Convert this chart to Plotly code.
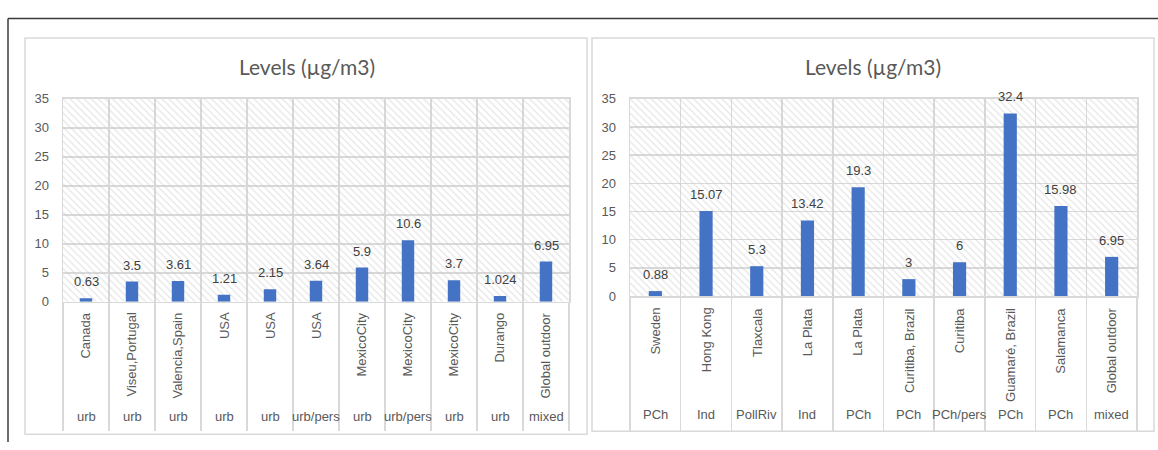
import plotly.graph_objects as go

W, H = 1158, 450

# ---------------- data ----------------
left_places = ["Canada", "Viseu,Portugal", "Valencia,Spain", "USA", "USA", "USA",
               "MexicoCity", "MexicoCity", "MexicoCity", "Durango", "Global outdoor"]
left_types = ["urb", "urb", "urb", "urb", "urb", "urb/pers", "urb", "urb/pers",
              "urb", "urb", "mixed"]
left_values = [0.63, 3.5, 3.61, 1.21, 2.15, 3.64, 5.9, 10.6, 3.7, 1.024, 6.95]

right_places = ["Sweden", "Hong Kong", "Tlaxcala", "La Plata", "La Plata",
                "Curitiba, Brazil", "Curitiba", "Guamaré, Brazil", "Salamanca",
                "Global outdoor"]
right_types = ["PCh", "Ind", "PollRiv", "Ind", "PCh", "PCh", "PCh/pers", "PCh",
               "PCh", "mixed"]
right_values = [0.88, 15.07, 5.3, 13.42, 19.3, 3, 6, 32.4, 15.98, 6.95]

title_text = "Levels (µg/m3)"
y_ticks = [0, 5, 10, 15, 20, 25, 30, 35]
y_max = 35

# ---------------- helpers ----------------
def px_x(x):
    return x / W

def px_y(y):
    return 1 - y / H

BAR = "#4472C4"
GRID = "#d9d9d9"
TXT = "#595959"
LBL = "#404040"
FONT = "Liberation Sans"

fig = go.Figure()

panels = [
    dict(places=left_places, types=left_types, values=left_values,
         xa="x", ya="y", xdom=[px_x(63), px_x(569)], ydom=[px_y(305), px_y(95)],
         ticklen=128, cat_top=314, type_y=424, title_x=307, bw=0.27,
         box=(25, 32, 587, 442)),
    dict(places=right_places, types=right_types, values=right_values,
         xa="x2", ya="y2", xdom=[px_x(630), px_x(1137)], ydom=[px_y(299), px_y(95)],
         ticklen=133, cat_top=309, type_y=422, title_x=873, bw=0.26,
         box=(592, 32, 1154, 439)),
]

shapes = []
annotations = []

# outer frame (top and left dark lines)
shapes.append(dict(type="line", xref="paper", yref="paper",
                   x0=px_x(8), x1=1, y0=px_y(12), y1=px_y(12),
                   line=dict(color="#3a3a3a", width=1.5), layer="below"))
shapes.append(dict(type="line", xref="paper", yref="paper",
                   x0=px_x(8), x1=px_x(8), y0=px_y(12), y1=0,
                   line=dict(color="#3a3a3a", width=1.5), layer="below"))

for i, p in enumerate(panels):
    n = len(p["values"])
    idx = list(range(n))
    # hatched plot background
    fig.add_trace(go.Bar(
        x=idx, y=[y_max] * n, width=1, xaxis=p["xa"], yaxis=p["ya"],
        marker=dict(color="rgba(0,0,0,0)", line=dict(width=0),
                    pattern=dict(shape="\\", fgcolor="#c8c8c8",
                                 bgcolor="rgba(0,0,0,0)", size=5, solidity=0.22)),
        hoverinfo="skip", showlegend=False))
    # data bars
    fig.add_trace(go.Bar(
        x=idx, y=p["values"], width=p["bw"], xaxis=p["xa"], yaxis=p["ya"],
        marker=dict(color=BAR, line=dict(width=0)), showlegend=False,
        hovertext=p["places"]))

    sfx = "" if i == 0 else "2"
    fig.update_layout(**{
        "xaxis" + sfx: dict(
            domain=p["xdom"], anchor="y" + sfx, range=[-0.5, n - 0.5],
            tickvals=[k - 0.5 for k in range(n + 1)], showticklabels=False,
            ticks="outside", ticklen=p["ticklen"], tickcolor=GRID, tickwidth=1.5,
            showgrid=True, gridcolor=GRID, gridwidth=1.5,
            showline=True, linecolor=GRID, linewidth=1.5, mirror=True,
            zeroline=False, fixedrange=True),
        "yaxis" + sfx: dict(
            domain=p["ydom"], anchor="x" + sfx, range=[0, y_max],
            tickvals=y_ticks, showgrid=True, gridcolor=GRID, gridwidth=1.5,
            showline=True, linecolor=GRID, linewidth=1.5, mirror=True,
            zeroline=False, ticks="", ticklabelstandoff=10,
            tickfont=dict(family=FONT, size=13, color=TXT), fixedrange=True),
    })

    # panel box
    x0, y0, x1, y1 = p["box"]
    shapes.append(dict(type="rect", xref="paper", yref="paper",
                       x0=px_x(x0), x1=px_x(x1), y0=px_y(y1), y1=px_y(y0),
                       line=dict(color=GRID, width=1.5), layer="below"))

    # title
    annotations.append(dict(text=title_text, xref="paper", yref="paper",
                            x=px_x(p["title_x"]), y=px_y(62), showarrow=False,
                            xanchor="center", yanchor="middle",
                            font=dict(family="Lato", size=21, color=TXT)))

    for k in range(n):
        v = p["values"][k]
        # data label
        annotations.append(dict(text=f"{v:g}", xref=p["xa"], yref=p["ya"],
                                x=k, y=v, yanchor="bottom", yshift=7,
                                showarrow=False,
                                font=dict(family=FONT, size=13, color=LBL)))
        # rotated place label
        annotations.append(dict(text=p["places"][k], xref=p["xa"], yref="paper",
                                x=k, y=px_y(p["cat_top"]), textangle=-90,
                                xanchor="center", yanchor="top", showarrow=False,
                                font=dict(family=FONT, size=13, color=TXT)))
        # type label
        annotations.append(dict(text=p["types"][k], xref=p["xa"], yref="paper",
                                x=k, y=px_y(p["type_y"]), xanchor="center",
                                yanchor="middle", showarrow=False,
                                font=dict(family=FONT, size=13, color=TXT)))

fig.update_layout(
    width=W, height=H, margin=dict(l=0, r=0, t=0, b=0),
    paper_bgcolor="white", plot_bgcolor="white",
    barmode="overlay", showlegend=False,
    shapes=shapes, annotations=annotations,
)

# pin the graph to the top-left corner of the page so it fills the window exactly
pin_js = (
    "document.body.style.margin='0';"
    "document.body.style.overflow='hidden';"
    "var gd=document.getElementById('{plot_id}');"
    "gd.style.position='fixed';gd.style.left='0px';gd.style.top='0px';"
)

fig.write_html("out.html", post_script=pin_js,
               config={"displayModeBar": False, "staticPlot": True})
